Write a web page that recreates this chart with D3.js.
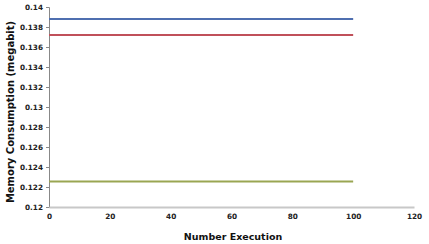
<!DOCTYPE html>
<html><head><meta charset="utf-8">
<script src="https://cdn.jsdelivr.net/npm/d3@7"></script>
<style>body{margin:0;background:#fff}svg{display:block}text{font-family:"DejaVu Sans",sans-serif}</style>
</head><body><svg id="c" width="429" height="244"></svg>
<script>
const executions = [0, 100];
const seriesA = [0.1388, 0.1388];
const seriesB = [0.1372, 0.1372];
const seriesC = [0.12255, 0.12255];
const xTicks = [0, 20, 40, 60, 80, 100, 120];
const yTicks = [0.12, 0.122, 0.124, 0.126, 0.128, 0.13, 0.132, 0.134, 0.136, 0.138, 0.14];
const seriesColors = ["#4f6fb0", "#c0505a", "#9aa652"];

const svg = d3.select("#c");
const x = d3.scaleLinear().domain([0, 120]).range([49, 414]);
const y = d3.scaleLinear().domain([0.12, 0.14]).range([207, 7]);

// y axis
const ya = svg.append("g").attr("transform", "translate(49,0)")
  .call(d3.axisLeft(y).tickValues(yTicks).tickSize(3).tickPadding(3).tickFormat(d => d3.format("")(+d.toFixed(3))));
ya.select(".domain").attr("stroke", "#888");
ya.selectAll(".tick line").attr("stroke", "#888");
ya.selectAll("text").attr("font-size", 7.3).attr("font-weight", "bold").attr("fill", "#222");

// x axis
const xa = svg.append("g").attr("transform", "translate(0,207)")
  .call(d3.axisBottom(x).tickValues(xTicks).tickSize(0).tickPadding(7));
xa.select(".domain").attr("stroke", "#c8c8c8").attr("stroke-width", 2);
xa.selectAll("text").attr("font-size", 7.3).attr("font-weight", "bold").attr("fill", "#222");

const line = d3.line().x((d, i) => x(executions[i])).y(d => y(d));
[seriesA, seriesB, seriesC].forEach((s, i) => {
  svg.append("path").datum(s).attr("d", line).attr("fill", "none")
    .attr("stroke", seriesColors[i]).attr("stroke-width", 2);
});

svg.append("text").attr("x", 233).attr("y", 240).attr("text-anchor", "middle")
  .attr("font-size", 9.5).attr("font-weight", "bold").attr("fill", "#111").text("Number Execution");
svg.append("text").attr("transform", "translate(14,112) rotate(-90)").attr("text-anchor", "middle")
  .attr("font-size", 10).attr("font-weight", "bold").attr("fill", "#111").text("Memory Consumption  (megabit)");
</script></body></html>
